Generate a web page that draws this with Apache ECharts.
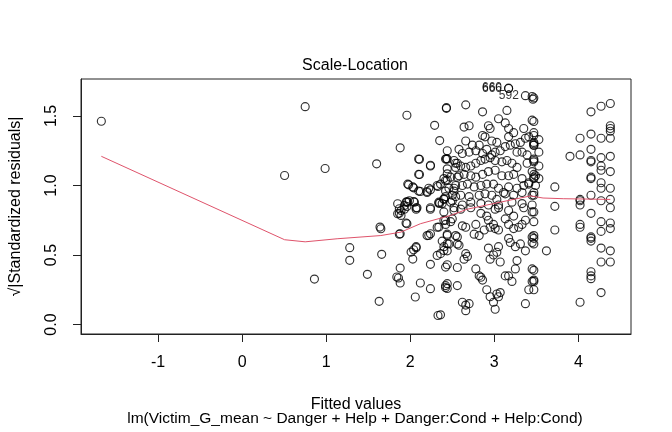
<!DOCTYPE html>
<html><head><meta charset="utf-8">
<script src="https://cdn.jsdelivr.net/npm/echarts@6/dist/echarts.min.js"></script>
<style>html,body{margin:0;padding:0;background:#fff}#c{width:672px;height:432px}</style>
</head><body><div id="c"></div>
<script>
const xTicks = [-1, 0, 1, 2, 3, 4];
const yTicks = [0, 0.5, 1, 1.5];

// [fitted value, sqrt(|standardized residual|)]
const sparsePoints = [[-1.675,1.462],[0.505,1.072],[0.75,1.567],[0.86,0.327],[0.987,1.122],[1.28,0.553],[1.28,0.462],[1.49,0.361],[1.60,1.156],[1.64,0.701],[1.65,0.689],[1.66,0.505],[1.63,0.167]];

const leftClusterPoints = [[1.96,1.505],[2.43,1.555],[2.29,1.433],[2.35,1.323],[1.88,1.271],[2.11,1.189],[2.24,1.146],[2.43,1.192],[2.11,1.079],[2.44,1.084],[1.98,1.005],[2.04,0.983],[2.12,0.957],[2.20,0.957],[2.24,0.969],[2.33,0.993],[2.42,1.036],[2.40,0.905],[2.35,0.873],[2.24,0.84],[2.04,0.885],[1.96,0.883],[1.96,0.849],[1.87,0.833],[2.08,0.84],
[1.85,0.869],[1.93,0.856],[1.97,0.88],[2.07,0.84],[2.34,0.873],[1.85,0.797],[1.89,0.785],[1.96,0.725],[1.88,0.653],[2.40,0.749],[2.34,0.701],[2.22,0.641],[2.24,0.653],[2.44,0.641],[2.44,0.581],[2.40,0.533],[2.32,0.497],[2.36,0.51],[2.01,0.521],[2.07,0.553],[2.04,0.538],[2.03,0.471],[1.88,0.406],[1.84,0.342],[1.86,0.335],[1.88,0.299],[2.12,0.299],[2.24,0.433],[2.24,0.258],[2.42,0.266],[2.44,0.294],[2.42,0.413],[2.06,0.198],[2.33,0.065],
[2.10,1.19],[2.24,1.14],[2.10,1.08],[2.44,1.19],[2.56,1.16],[1.97,1.01],[2.03,0.99],[2.10,0.96],[2.20,0.95],[2.22,0.98],[2.32,1.00],[2.36,1.01],[2.44,1.04],[2.46,0.98],[2.52,0.96],[2.56,1.06],[1.95,0.88],[1.99,0.89],[2.05,0.88],[1.89,0.82],[1.87,0.80],[1.93,0.83],[2.07,0.83],[2.24,0.83],[2.34,0.88],[2.42,0.92],[2.50,0.93],[2.54,0.92],[1.95,0.73],[2.42,0.75],[2.50,0.76],[2.32,0.70],[2.20,0.64],[1.87,0.65],[2.44,0.65],[2.54,0.64],[2.56,0.58],[2.07,0.56]];

const centerUpperPoints = [[2.66,1.58],[2.86,1.53],[3.15,1.54],[3.46,1.62],[3.05,1.48],[3.45,1.47],[2.64,1.42],[2.70,1.43],[2.93,1.43],[2.95,1.41],[3.13,1.45],[3.17,1.41],[3.23,1.38],[3.35,1.41],[2.66,1.32],[2.74,1.29],[2.82,1.29],[2.86,1.36],[2.89,1.35],[2.97,1.32],[3.03,1.31],[3.17,1.35],[3.31,1.31],[3.37,1.34],[3.41,1.35],[3.47,1.31],[3.47,1.29],[2.58,1.26],[2.62,1.23],[2.70,1.24],[2.78,1.25],[2.86,1.23],[2.91,1.26],[2.97,1.22],[3.01,1.24],[3.07,1.25],[3.13,1.28],[3.19,1.29],[3.25,1.30],[3.27,1.24],[3.33,1.24],[3.39,1.22],[3.47,1.19],[2.54,1.16],[2.60,1.14],[2.66,1.13],[2.72,1.14],[2.78,1.16],[2.84,1.18],[2.89,1.19],[2.95,1.20],[3.01,1.18],[3.09,1.17],[3.15,1.18],[3.21,1.16],[3.27,1.13],[3.39,1.16],[3.45,1.10],[2.58,1.07],[2.64,1.08],[2.72,1.07],[2.78,1.06],[2.86,1.08],[2.93,1.10],[3.01,1.11],[3.09,1.07],[3.17,1.07],[3.23,1.08],[3.33,1.05],[3.41,1.02],[3.49,1.07],[2.54,1.00],[2.62,1.00],[2.68,1.01],[2.76,0.99],[2.84,1.00],[2.91,1.01],[2.99,1.01],[3.05,0.98],[3.11,0.95],[3.17,0.99],[3.27,0.98],[3.35,1.00],[3.41,1.01],[3.49,1.00],[2.60,0.93],[2.70,0.92],[2.82,0.93],[2.89,0.94],[2.97,0.93],[3.03,0.90],[3.13,0.94],[3.23,0.93],[3.33,0.95],[3.45,0.93],[2.62,0.86],[2.72,0.88],[2.84,0.87],[2.93,0.86],[3.05,0.86],[3.21,0.88],[3.33,0.87],[3.45,0.86],[3.45,1.64],
[2.43,1.56],[2.44,1.25],[2.42,1.19],[2.44,1.12],[2.40,1.05],[2.42,0.96],[2.40,0.90],[2.52,1.18],[2.54,1.13],[2.48,1.06],[2.52,0.98],[2.50,0.89],[2.52,0.84]];

const centerLowerPoints = [[2.60,0.83],[2.72,0.84],[2.84,0.80],[2.91,0.78],[3.01,0.83],[3.05,0.84],[3.17,0.82],[3.23,0.78],[3.35,0.84],[3.45,0.81],[2.62,0.71],[2.66,0.70],[2.78,0.72],[2.76,0.65],[2.82,0.64],[2.88,0.68],[2.93,0.75],[2.95,0.70],[2.99,0.72],[3.01,0.69],[3.05,0.68],[3.13,0.76],[3.17,0.72],[3.23,0.69],[3.29,0.70],[3.33,0.72],[3.37,0.75],[2.56,0.63],[2.58,0.57],[2.66,0.51],[2.68,0.49],[2.64,0.47],[2.93,0.55],[2.95,0.47],[2.99,0.50],[3.03,0.52],[3.05,0.56],[3.07,0.45],[3.17,0.62],[3.19,0.59],[3.25,0.56],[3.31,0.58],[3.37,0.53],[3.45,0.63],[3.45,0.59],[2.56,0.41],[2.78,0.40],[2.82,0.35],[2.84,0.34],[2.86,0.32],[2.91,0.25],[2.95,0.20],[2.99,0.16],[3.01,0.11],[3.03,0.22],[3.05,0.20],[3.07,0.23],[3.13,0.35],[3.17,0.35],[3.21,0.31],[3.25,0.40],[3.27,0.46],[3.45,0.40],[3.45,0.31],[3.41,0.25],[2.56,0.28],[2.62,0.16],[2.66,0.14],[2.70,0.15],[2.66,0.10],[3.37,0.15],
[2.38,0.87],[2.48,0.88],[2.40,0.81],[2.52,0.82],[2.42,0.72],[2.48,0.74],[2.38,0.60],[2.46,0.58],[2.40,0.56],[2.44,0.53],[2.44,0.43],[2.42,0.28],[2.44,0.26],[2.36,0.07]];

const rightPoints = [[3.47,1.63],[3.47,1.46],[3.47,1.38],[3.47,1.36],[3.47,1.30],[3.47,1.29],[3.47,1.18],[3.47,1.17],[3.47,1.08],[3.47,1.06],[3.47,1.05],[3.47,0.95],[3.47,0.93],[3.47,0.81],[3.47,0.74],[3.47,0.64],[3.47,0.62],[3.47,0.58],[3.47,0.39],[3.47,0.32],[3.47,0.31],[3.47,0.25],
[3.53,1.33],[3.53,1.24],[3.53,1.14],[3.53,1.05],
[3.72,0.99],[3.72,0.85],[3.72,0.68],[3.62,0.53],[3.90,1.21],
[4.02,1.34],[4.02,1.22],[4.02,0.90],[4.02,0.89],[4.02,0.86],[4.02,0.72],[4.02,0.70],[4.02,0.16],
[4.15,1.53],[4.15,1.37],[4.15,1.26],[4.15,1.18],[4.15,1.17],[4.15,1.06],[4.15,1.05],[4.15,0.93],[4.15,0.80],[4.15,0.63],[4.15,0.62],[4.15,0.60],[4.15,0.38],[4.15,0.35],[4.15,0.33],
[4.27,1.57],[4.27,1.34],[4.27,1.20],[4.27,1.14],[4.27,1.11],[4.27,1.02],[4.27,0.98],[4.27,0.89],[4.27,0.74],[4.27,0.67],[4.27,0.55],[4.27,0.45],[4.27,0.23],
[4.38,1.59],[4.38,1.43],[4.38,1.41],[4.38,1.39],[4.38,1.34],[4.38,1.21],[4.38,1.10],[4.38,0.98],[4.38,0.90],[4.38,0.84],[4.38,0.73],[4.38,0.69],[4.38,0.53],[4.38,0.45]];

const labeledPoints = [[3.17,1.700,'660'],[3.17,1.698,'666'],[3.37,1.646,'592']];

const smoothLine = [[-1.675,1.21],[0.505,0.61],[0.75,0.595],[1.13,0.617],[1.65,0.64],[1.89,0.665],[2.12,0.725],[2.48,0.785],[2.68,0.83],[3.07,0.88],[3.43,0.925],[3.58,0.91],[3.82,0.905],[4.38,0.90]];

const FONT = 'Liberation Sans';
const FS = 16;
const allPoints = [].concat(sparsePoints, leftClusterPoints, centerUpperPoints, centerLowerPoints, rightPoints);
const circleStyle = { color: 'rgba(0,0,0,0)', borderColor: '#000', borderWidth: 1.15 };

const chart = echarts.init(document.getElementById('c'), null, { renderer: 'canvas' });
chart.setOption({
  animation: false,
  backgroundColor: '#fff',
  title: [
    { text: 'Scale-Location', left: 355, top: 58, textAlign: 'center', padding: 0,
      textStyle: { fontFamily: FONT, fontSize: FS, fontWeight: 'normal', color: '#000' } },
    { text: 'lm(Victim_G_mean ~ Danger + Help + Danger:Cond + Help:Cond)', left: 355, top: 411, textAlign: 'center', padding: 0,
      textStyle: { fontFamily: FONT, fontSize: 15.5, fontWeight: 'normal', color: '#000' } }
  ],
  grid: { left: 79, right: 41, top: 79, bottom: 98, containLabel: false, show: true, borderColor: '#222', borderWidth: 1, backgroundColor: 'transparent' },
  xAxis: {
    type: 'value', min: -1.917, max: 4.626,
    name: 'Fitted values', nameLocation: 'middle', nameGap: 63,
    nameTextStyle: { fontFamily: FONT, fontSize: FS, color: '#000' },
    axisLine: { show: true, onZero: false, lineStyle: { color: '#222', width: 1 } },
    axisTick: { show: true, length: 8, customValues: xTicks, lineStyle: { color: '#222' } },
    axisLabel: { customValues: xTicks, margin: 21, fontFamily: FONT, fontSize: FS, color: '#000' },
    splitLine: { show: false }
  },
  yAxis: {
    type: 'value', min: -0.068, max: 1.766,
    name: '\u221A|Standardized residuals|', nameLocation: 'middle', nameGap: 57, nameRotate: 90,
    nameTextStyle: { fontFamily: FONT, fontSize: FS, color: '#000' },
    axisLine: { show: true, onZero: false, lineStyle: { color: '#222', width: 1 } },
    axisTick: { show: true, length: 8, customValues: yTicks, lineStyle: { color: '#222' } },
    axisLabel: { customValues: yTicks, rotate: 90, margin: 21, fontFamily: FONT, fontSize: FS, color: '#000',
      formatter: v => v.toFixed(1) },
    splitLine: { show: false }
  },
  series: [
    { type: 'scatter', data: allPoints, symbol: 'circle', symbolSize: 8, itemStyle: circleStyle, silent: true },
    { type: 'scatter', data: labeledPoints, symbol: 'circle', symbolSize: 8, itemStyle: circleStyle, silent: true,
      label: { show: true, position: 'left', distance: 2, formatter: p => p.data[2],
        fontFamily: FONT, fontSize: 12, color: '#000' } },
    { type: 'line', data: smoothLine, showSymbol: false, smooth: false, silent: true,
      lineStyle: { color: '#DF536B', width: 1 }, z: 3 }
  ]
});
</script>
</body></html>
